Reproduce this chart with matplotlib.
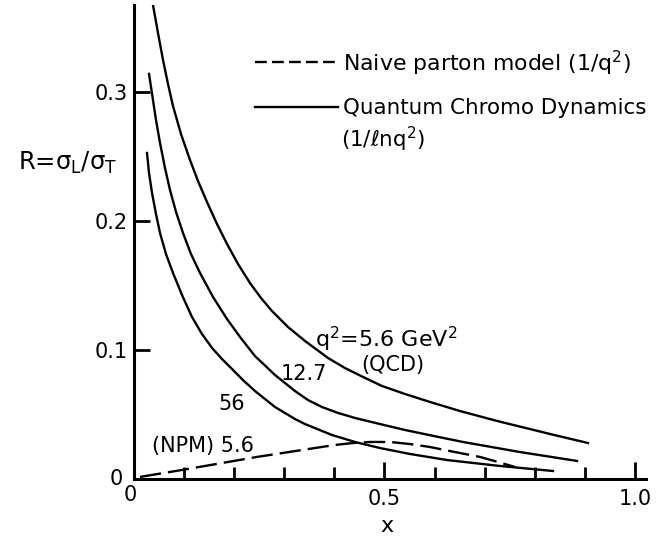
import matplotlib
matplotlib.use("Agg")
import matplotlib.pyplot as plt
from matplotlib.lines import Line2D

plt.rcParams['font.family'] = ['DejaVu Sans']
plt.rcParams['mathtext.default'] = 'regular'

# ---- data ----
# QCD, q^2 = 5.6 GeV^2 (upper curve)
x_qcd_56a = [0.0388, 0.0488, 0.0588, 0.0687, 0.0787, 0.0946, 0.1125, 0.1285, 0.1464,
             0.1663, 0.1863, 0.2082, 0.2321, 0.2540, 0.2759, 0.3078, 0.3416, 0.3875,
             0.4213, 0.4572, 0.4950, 0.5408, 0.5907, 0.6504, 0.7241, 0.8297, 0.9054]
r_qcd_56a = [0.3674, 0.3457, 0.3248, 0.3062, 0.2891, 0.2674, 0.2473, 0.2310, 0.2147,
             0.1977, 0.1822, 0.1667, 0.1519, 0.1403, 0.1302, 0.1178, 0.1070, 0.0938,
             0.0860, 0.0791, 0.0721, 0.0659, 0.0597, 0.0527, 0.0450, 0.0349, 0.0279]
# QCD, q^2 = 12.7 GeV^2
x_qcd_127 = [0.0309, 0.0388, 0.0448, 0.0528, 0.0627, 0.0727, 0.0847, 0.0986, 0.1145,
             0.1325, 0.1584, 0.1863, 0.2122, 0.2420, 0.2819, 0.3217, 0.3476, 0.3755,
             0.4074, 0.4412, 0.4910, 0.5408, 0.5986, 0.6564, 0.7699, 0.8835]
r_qcd_127 = [0.3140, 0.2938, 0.2783, 0.2605, 0.2411, 0.2240, 0.2070, 0.1907, 0.1744,
             0.1597, 0.1411, 0.1240, 0.1101, 0.0953, 0.0806, 0.0682, 0.0612, 0.0558,
             0.0512, 0.0473, 0.0426, 0.0380, 0.0333, 0.0287, 0.0209, 0.0140]
# QCD, q^2 = 56 GeV^2
x_qcd_560 = [0.0269, 0.0309, 0.0369, 0.0448, 0.0528, 0.0647, 0.0787, 0.0966, 0.1165,
             0.1364, 0.1564, 0.1763, 0.1962, 0.2181, 0.2420, 0.2819, 0.3217, 0.3416,
             0.3954, 0.4412, 0.4910, 0.5508, 0.6245, 0.7301, 0.8357]
r_qcd_560 = [0.2527, 0.2372, 0.2217, 0.2054, 0.1907, 0.1744, 0.1597, 0.1426, 0.1256,
             0.1124, 0.1016, 0.0930, 0.0853, 0.0767, 0.0682, 0.0558, 0.0465, 0.0426,
             0.0341, 0.0287, 0.0240, 0.0194, 0.0147, 0.0101, 0.0062]
# Naive parton model, q^2 = 5.6 GeV^2
x_npm = [0.0129, 0.0966, 0.2460, 0.4014, 0.4373, 0.4711, 0.5110, 0.5508, 0.5907,
         0.6404, 0.6902, 0.7261, 0.7600]
r_npm = [0.0016, 0.0070, 0.0171, 0.0264, 0.0279, 0.0287, 0.0287, 0.0271, 0.0248,
         0.0209, 0.0171, 0.0132, 0.0093]

x_ticks_major = [0.5, 1.0]
x_tick_labels = ['0.5', '1.0']
x_ticks_minor = [0.1, 0.2, 0.3, 0.4, 0.6, 0.7, 0.8, 0.9]
y_ticks = [0.1, 0.2, 0.3]
y_tick_labels = ['0.1', '0.2', '0.3']

legend_npm = 'Naive parton model (1/q$^2$)'
legend_qcd = 'Quantum Chromo Dynamics'
legend_qcd2 = '(1/\u2113nq$^2$)'

# ---- figure ----
W, H = 670, 539
fig = plt.figure(figsize=(W / 100, H / 100), dpi=100)
ax = fig.add_axes([133.5 / W, 60 / H, 512 / W, 474 / H])
ax.set_xlim(0, 1.02)
ax.set_ylim(0, 0.3674)

lw = 1.7
ax.plot(x_qcd_56a, r_qcd_56a, color='black', lw=lw)
ax.plot(x_qcd_127, r_qcd_127, color='black', lw=lw)
ax.plot(x_qcd_560, r_qcd_560, color='black', lw=lw)
ax.plot(x_npm, r_npm, color='black', lw=lw, dashes=(9, 3))

for s in ['top', 'right']:
    ax.spines[s].set_visible(False)
for s in ['left', 'bottom']:
    ax.spines[s].set_linewidth(2.2)

ax.set_xticks(x_ticks_major)
ax.set_xticklabels(x_tick_labels)
ax.set_xticks(x_ticks_minor, minor=True)
ax.set_yticks(y_ticks)
ax.set_yticklabels(y_tick_labels)
ax.tick_params(axis='x', which='major', direction='in', length=12, width=2,
               labelsize=15, pad=7)
ax.tick_params(axis='x', which='minor', direction='in', length=8.5, width=2)
ax.tick_params(axis='y', which='major', direction='in', length=11.5, width=2,
               labelsize=15, pad=4)

# the two "0" labels at the origin
ax.annotate('0', xy=(0, 0), xytext=(-2, -4), textcoords='offset points',
            ha='center', va='top', fontsize=15)
ax.annotate('0', xy=(0, 0), xytext=(-8, 0), textcoords='offset points',
            ha='right', va='center', fontsize=15)

ax.set_xlabel('x', fontsize=16, va='center')
ax.xaxis.set_label_coords(0.494, -0.100)
ax.set_ylabel('R=$\\sigma_L/\\sigma_T$', fontsize=17.5, rotation=0,
              ha='center', va='center')
ax.yaxis.set_label_coords(-0.129, 0.667)

# curve labels
ax.text(0.362, 0.1025, 'q$^2$=5.6 GeV$^2$', fontsize=16, ha='left', va='baseline')
ax.text(0.517, 0.0885, '(QCD)', fontsize=15, ha='center', va='center')
ax.text(0.340, 0.0814, '12.7', fontsize=15, ha='center', va='center')
ax.text(0.196, 0.058, '56', fontsize=15, ha='center', va='center')
ax.text(0.138, 0.0256, '(NPM) 5.6', fontsize=15, ha='center', va='center')

# legend (drawn as key lines + text)
fig.add_artist(Line2D([255 / W, 338 / W], [1 - 62 / H, 1 - 62 / H], color='black',
                      lw=lw, dashes=(5, 2.2)))
fig.add_artist(Line2D([255 / W, 338 / W], [1 - 107 / H, 1 - 107 / H], color='black',
                      lw=lw))
fig.text(343 / W, 1 - 63 / H, legend_npm, fontsize=15.8, ha='left', va='center')
fig.text(343 / W, 1 - 108 / H, legend_qcd, fontsize=15.4, ha='left', va='center')
fig.text(341 / W, 1 - 139 / H, legend_qcd2, fontsize=15.4, ha='left', va='center')

fig.savefig('out.png', dpi=100)
